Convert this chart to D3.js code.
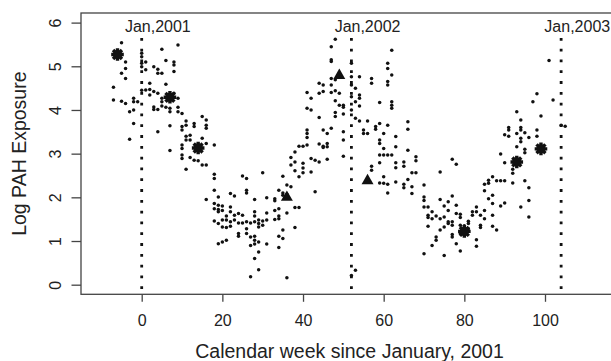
<!DOCTYPE html>
<html>
<head>
<meta charset="utf-8">
<script src="https://cdn.jsdelivr.net/npm/d3@7"></script>
<style>
  body { margin: 0; background: #fff; }
  svg { display: block; }
  text { font-family: "Liberation Sans", Arial, Helvetica, sans-serif; fill: #222; }
</style>
</head>
<body>
<div id="chart"></div>
<script>
// tick labels and reference lines
const xTicks = [0, 20, 40, 60, 80, 100];
const yTicks = [0, 1, 2, 3, 4, 5, 6];
const yearWeeks = [0, 52, 104];
const yearLabels = ["Jan,2001", "Jan,2002", "Jan,2003"];

const weeklySamples = [
  // late 2000 / early 2001
  [-5,5.54],[-4,5.10],[-4,4.95],[-5,4.84],[-4,4.72],[-7,4.52],[-7,4.23],[-5,4.20],[-4,4.15],
  [-2,4.27],[-2,4.19],[-1,4.19],[-3,3.96],[-2,4.00],[-2,3.69],[-3,3.33],
  [0,5.30],[0,5.22],[0,5.07],[0,4.99],[0,4.45],[1,5.10],[1,4.92],[1,4.46],
  [5,5.39],[9,5.49],[6,5.13],[8,5.10],[8,5.03],[8,4.88],[3,4.99],[4,4.93],[4,4.84],[5,4.84],
  [6,4.59],[2,4.61],[2,4.47],[3,4.42],[4,4.38],[2,4.34],[5,4.27],[5,4.19],[8,4.38],[9,4.27],
  [3,4.07],[3,4.01],[4,4.01],[5,4.09],[6,4.06],[7,4.04],[7,3.96],[9,4.06],[9,3.96],[10,3.92],
  [7,3.64],[4,3.50],[11,3.75],[11,3.65],[10,3.62],[10,3.54],[13,3.69],[13,3.62],[15,3.85],
  [16,3.77],[16,3.65],[16,3.58],[11,3.40],[12,3.42],[11,3.31],[12,3.31],[10,3.20],[10,3.12],
  [15,3.35],[16,3.23],[18,3.20],[7,3.07],[10,2.97],[10,2.89],[12,2.91],[13,2.85],[14,2.84],
  [15,2.74],[16,2.74],[11,2.64],[18,2.53],[18,2.43],[25,2.49],[26,2.43],[30,2.56],
  // summer 2001 trough
  [18,2.16],[18,1.86],[18,1.74],[16,1.95],[19,2.01],[19,1.82],[19,1.72],[19,1.67],[22,2.09],
  [23,2.03],[20,1.80],[20,1.70],[22,1.78],[22,1.67],[23,1.59],[21,1.57],[20,1.48],[21,1.48],
  [18,1.46],[19,1.40],[20,1.32],[22,1.44],[23,1.48],[24,1.41],[24,1.63],[25,1.59],[21,1.31],
  [22,1.34],[24,1.17],[24,1.11],[26,2.16],[26,2.10],[28,1.95],[25,1.41],[26,1.44],[27,1.41],
  [28,1.44],[29,1.48],[30,1.46],[31,1.48],[26,1.28],[26,1.17],[28,1.67],[28,1.57],[31,1.99],
  [31,1.64],[29,1.40],[30,1.36],[29,1.32],[19,0.94],[20,0.98],[21,1.02],[27,0.90],[28,0.93],
  [28,1.02],[29,0.98],[27,1.09],[28,1.11],[31,0.93],[28,0.60],[29,0.75],[29,0.34],[27,0.18],
  [36,0.16],[33,1.97],[33,1.92],[34,2.16],[35,2.10],[35,2.05],[34,1.74],[33,1.70],[36,1.64],
  [38,1.77],[39,1.77],[34,1.57],[33,1.49],[34,1.51],[35,1.25],[34,1.11],[35,1.06],[38,1.31],
  [34,0.85],[36,2.07],
  // winter 2001/02 peak
  [48,5.62],[47,5.45],[47,5.15],[47,5.11],[47,4.72],[48,4.69],[45,4.57],[47,4.57],[44,4.61],
  [41,4.40],[42,4.27],[44,4.38],[45,4.42],[47,4.40],[48,4.44],[49,4.38],[48,4.21],[49,4.11],
  [50,4.11],[50,4.06],[41,4.04],[42,4.00],[44,3.83],[48,3.94],[48,3.85],[50,3.91],
  [52,5.07],[52,4.76],[52,4.57],[52,4.30],[52,4.00],[52,0.21],[53,0.33],
  [53,4.50],[54,4.34],[54,4.27],[53,4.19],[54,4.09],[54,4.76],[57,4.72],[57,4.61],[61,5.07],
  [61,4.95],[62,5.37],[61,4.65],[61,4.57],[62,4.80],[59,4.17],[62,4.19],[62,4.11],[62,4.04],
  [53,3.81],[54,3.75],[56,3.75],[55,3.54],[58,3.62],[59,3.69],[58,3.56],[55,3.46],[56,3.46],
  [45,3.54],[46,3.46],[47,3.58],[41,3.54],[41,3.46],[41,3.37],[50,3.50],[50,3.31],[44,3.22],
  [45,3.17],[45,3.14],[46,3.23],[46,3.16],[39,3.17],[40,3.17],[41,3.20],[38,3.04],[59,3.31],
  [59,3.23],[60,3.46],[61,3.65],[63,3.39],[66,3.73],[66,3.56],[60,3.12],[61,2.97],[60,2.97],
  [59,2.97],[62,2.97],[63,3.16],[66,3.08],[50,2.94],[42,2.89],[43,2.85],[44,2.81],[46,2.87],
  [37,2.91],[38,2.81],[37,2.74],[38,2.61],[39,2.47],[40,2.56],[42,2.58],[35,2.48],[36,2.28],
  [37,2.24],[43,2.13],[57,2.62],[57,2.71],[59,2.79],[63,2.79],[63,2.68],[65,2.81],[65,2.71],
  [67,2.56],[68,2.56],[68,2.93],[68,2.84],[66,2.41],[60,2.47],[59,2.33],[60,2.32],[61,2.30],
  [63,2.35],[65,2.30],[65,2.22],[61,2.10],[67,2.24],[67,2.09],[70,2.28],[74,2.58],[70,2.01],
  [74,1.95],[40,2.78],[40,2.67],
  // summer 2002 trough
  [70,1.93],[76,1.90],[77,2.03],[78,1.82],[75,1.80],[76,1.70],[70,1.78],[71,1.78],[72,1.67],
  [71,1.59],[72,1.51],[71,1.54],[73,1.57],[74,1.51],[75,1.55],[76,1.44],[76,1.40],[77,1.44],
  [77,1.36],[78,1.63],[79,1.61],[79,1.54],[71,1.34],[74,1.25],[75,1.32],[77,1.15],[77,1.09],
  [73,1.09],[73,1.02],[72,0.90],[78,0.94],[79,0.77],[70,0.71],[75,0.67],[79,1.36],[79,1.17],
  [81,1.40],[81,1.28],[80,1.35],[81,1.45],[80,1.15],[83,1.03],[83,0.88],[82,1.67],[82,1.59],
  [83,1.78],[83,1.67],[85,1.70],[84,1.59],[85,1.51],[84,1.36],[84,1.31],[85,2.15],[85,2.30],
  [86,2.39],[87,2.47],[88,2.38],[89,2.38],[90,2.38],[86,2.32],[86,1.97],[87,2.05],[87,1.86],
  [89,1.80],[90,1.87],[87,1.59],[88,1.25],[87,1.34],[94,1.78],[96,1.93],[96,1.55],[95,2.38],
  [96,2.22],[92,2.33],
  // rise into 2003
  [101,5.13],[98,4.37],[97,4.19],[102,4.23],[93,3.96],[94,3.77],[99,3.86],[104,3.65],[105,3.63],
  [91,3.60],[91,3.54],[94,3.60],[94,3.54],[90,3.43],[91,3.40],[93,3.46],[95,3.48],[96,3.37],
  [98,3.54],[98,3.40],[94,3.35],[94,3.27],[93,3.16],[95,3.10],[95,3.02],[89,2.99],[90,2.79],
  [92,2.64],[92,2.55],[77,2.87],[78,2.76]
];

// group summaries drawn as big markers
const starMeans = [[-6,5.27],[7,4.29],[14,3.13],[80,1.22],[93,2.81],[99,3.11]];
const triangleMeans = [[36,2.0],[49,4.79],[56,2.38]];

let margin = {top: 13, left: 81, bottom: 294.3, right: 618};
let width = 611, height = 361;

let svg = d3.select("#chart").append("svg")
  .attr("width", width)
  .attr("height", height);

let x = d3.scaleLinear().domain([-15.05, 118.1]).range([margin.left, margin.right]);
let y = d3.scaleLinear().domain([-0.22, 6.22]).range([margin.bottom, margin.top]);

svg.append("clipPath").attr("id", "plotclip")
  .append("rect")
  .attr("x", margin.left).attr("y", margin.top)
  .attr("width", margin.right - margin.left)
  .attr("height", margin.bottom - margin.top);

let plot = svg.append("g").attr("clip-path", "url(#plotclip)");

// year start lines (dotted)
plot.selectAll(".yearline")
  .data(yearWeeks)
  .enter()
  .append("line")
  .attr("class", "yearline")
  .attr("x1", d => x(d)).attr("x2", d => x(d))
  .attr("y1", y(5.65)).attr("y2", margin.bottom + 5)
  .attr("stroke", "#111")
  .attr("stroke-width", 2.8)
  .attr("stroke-dasharray", "2.8,8");

svg.selectAll(".yearlabel")
  .data(yearWeeks)
  .enter()
  .append("text")
  .attr("x", d => x(d + 4))
  .attr("y", y(5.78))
  .attr("text-anchor", "middle")
  .style("font-size", "16px")
  .text((d, i) => yearLabels[i]);

// weekly points
plot.selectAll(".pt")
  .data(weeklySamples)
  .enter()
  .append("circle")
  .attr("class", "pt")
  .attr("cx", d => x(d[0]))
  .attr("cy", d => y(d[1]))
  .attr("r", 1.75)
  .attr("fill", "#111");

// asterisk markers (drawn heavy so they read as blobs)
let starR = 6.3;
let star = plot.selectAll(".star")
  .data(starMeans)
  .enter()
  .append("g")
  .attr("class", "star")
  .attr("transform", d => "translate(" + x(d[0]) + "," + y(d[1]) + ")");
[0, 45, 90, 135].forEach(function(a) {
  let r = a * Math.PI / 180;
  star.append("line")
    .attr("x1", -starR * Math.cos(r)).attr("y1", -starR * Math.sin(r))
    .attr("x2", starR * Math.cos(r)).attr("y2", starR * Math.sin(r))
    .attr("stroke", "#111")
    .attr("stroke-width", 3.4);
});
star.append("circle").attr("r", 4.6).attr("fill", "#111");

plot.selectAll(".tri")
  .data(triangleMeans)
  .enter()
  .append("path")
  .attr("class", "tri")
  .attr("d", d3.symbol().type(d3.symbolTriangle).size(62))
  .attr("transform", d => "translate(" + x(d[0]) + "," + y(d[1]) + ")")
  .attr("fill", "#111");

// box
svg.append("rect")
  .attr("x", margin.left).attr("y", margin.top)
  .attr("width", margin.right - margin.left)
  .attr("height", margin.bottom - margin.top)
  .attr("fill", "none")
  .attr("stroke", "#444")
  .attr("stroke-width", 1.3);

// axes
let xAxis = svg.append("g")
  .attr("transform", "translate(0," + margin.bottom + ")")
  .call(d3.axisBottom(x).tickValues(xTicks).tickFormat(d3.format("d")).tickSize(7.5).tickSizeOuter(0));
xAxis.select(".domain").remove();
xAxis.selectAll(".tick line").attr("stroke", "#444").attr("stroke-width", 1.3);
xAxis.selectAll(".tick text")
  .attr("y", 32.2).attr("dy", 0)
  .style("font-size", "16px")
  .style("font-family", "'Liberation Sans', Arial, sans-serif")
  .attr("fill", "#222");

let yAxis = svg.append("g")
  .attr("transform", "translate(" + margin.left + ",0)")
  .call(d3.axisLeft(y).tickValues(yTicks).tickFormat(d3.format("d")).tickSize(9.5).tickSizeOuter(0));
yAxis.select(".domain").remove();
yAxis.selectAll(".tick line").attr("stroke", "#444").attr("stroke-width", 1.3);
yAxis.selectAll(".tick text")
  .attr("transform", "rotate(-90)")
  .attr("x", 0).attr("y", -20).attr("dy", 0)
  .attr("text-anchor", "middle")
  .style("font-size", "16px")
  .style("font-family", "'Liberation Sans', Arial, sans-serif")
  .attr("fill", "#222");

// titles
svg.append("text")
  .attr("x", (margin.left + margin.right) / 2)
  .attr("y", 358.3)
  .attr("text-anchor", "middle")
  .style("font-size", "19.5px")
  .text("Calendar week since January, 2001");

svg.append("text")
  .attr("transform", "translate(26," + (margin.top + margin.bottom) / 2 + ") rotate(-90)")
  .attr("text-anchor", "middle")
  .style("font-size", "19.5px")
  .text("Log PAH Exposure");
</script>
</body>
</html>
